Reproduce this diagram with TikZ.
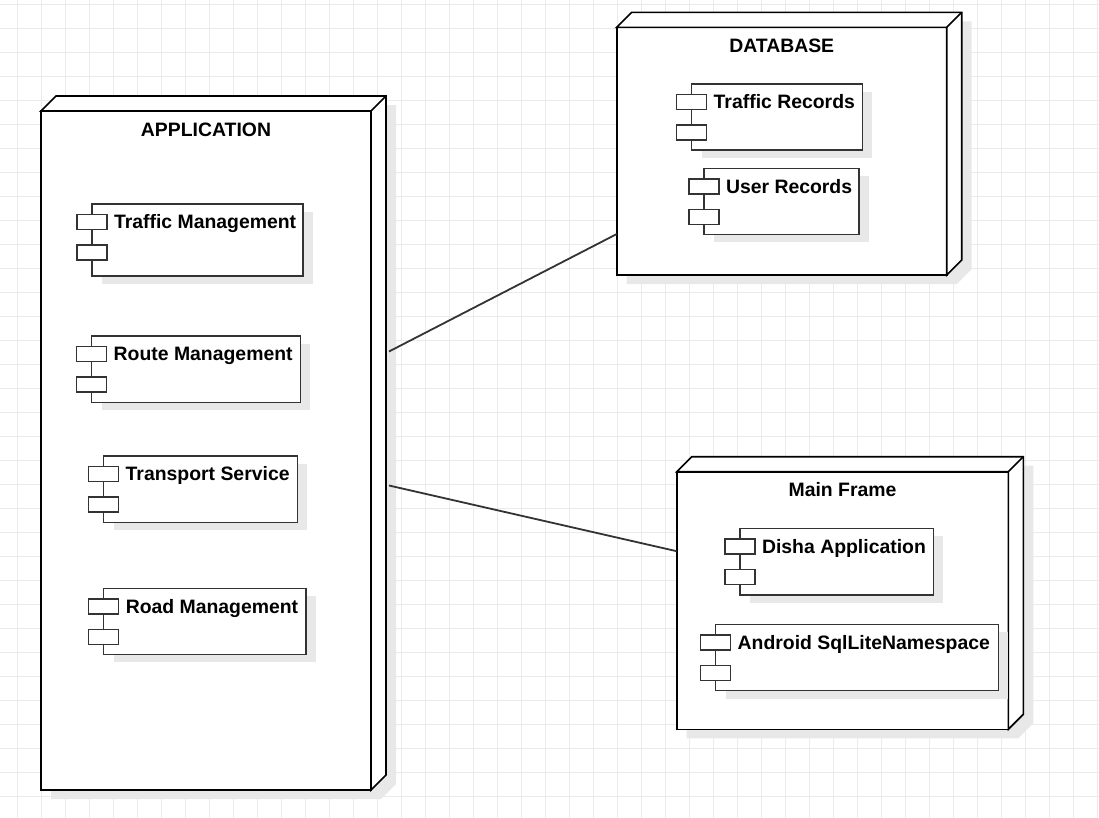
\documentclass[tikz,border=0pt]{standalone}
\usepackage{fontspec}
\setmainfont{Liberation Sans}
\usetikzlibrary{positioning,shadows,backgrounds}

\begin{document}
\begin{tikzpicture}[x=1pt, y=-1pt, every node/.style={inner sep=0pt, outer sep=0pt},
    cube/.style={draw=black, line width=1.6pt, fill=white},
    comp/.style={draw=black!80, line width=1.4pt, fill=white, drop shadow={shadow xshift=10pt, shadow yshift=-8pt, fill=shd, opacity=1}},
    port/.style={draw=black!80, line width=1.4pt, fill=white, minimum width=30pt, minimum height=15pt},
    lbl/.style={font=\fontsize{19.4}{23}\selectfont\bfseries, anchor=base west},
    head/.style={font=\fontsize{19.4}{23}\selectfont\bfseries, anchor=base},
    link/.style={draw=black!80, line width=1.8pt}]
    \colorlet{shd}{black!9}
    \colorlet{gridc}{black!8}
    \useasboundingbox (0,0) rectangle (1099,817);
    % Application node
    \node[cube, minimum width=330pt, minimum height=679pt] (app) at (206,450.5) {};
    \draw[cube] (app.north west) -- ([shift={(15pt,15pt)}]app.north west) -- ([shift={(15pt,15pt)}]app.north east) -- ([shift={(15pt,15pt)}]app.south east) -- (app.south east) -- (app.north east) -- cycle;
    \draw[cube] (app.north east) -- ([shift={(15pt,15pt)}]app.north east);
    \node[head] (appt) at ([yshift=-25.5pt]app.north) {APPLICATION};
    % traffic management
    \node[comp, minimum width=211pt, minimum height=72pt] (tm) at (197.5,240) {};
    \node[port, below=10.5pt of tm.north west] (tm1) {};
    \node[port, below=15.5pt of tm1] (tm2) {};
    \node[lbl] (tmt) at ([shift={(7pt,-6.8pt)}]tm1.east) {Traffic Management};
    % route management
    \node[comp, minimum width=208.6pt, minimum height=66.3pt] (rm) at (196,369.2) {};
    \node[port, below=10.5pt of rm.north west] (rm1) {};
    \node[port, below=15.5pt of rm1] (rm2) {};
    \node[lbl] (rmt) at ([shift={(7pt,-6.8pt)}]rm1.east) {Route Management};
    % transport service
    \node[comp, minimum width=193.6pt, minimum height=66.3pt] (ts) at (200.5,489.2) {};
    \node[port, below=10.5pt of ts.north west] (ts1) {};
    \node[port, below=15.5pt of ts1] (ts2) {};
    \node[lbl] (tst) at ([shift={(7pt,-6.8pt)}]ts1.east) {Transport Service};
    % road management
    \node[comp, minimum width=202.3pt, minimum height=66pt] (rd) at (204.9,621.3) {};
    \node[port, below=10.5pt of rd.north west] (rd1) {};
    \node[port, below=15.5pt of rd1] (rd2) {};
    \node[lbl] (rdt) at ([shift={(7pt,-6.8pt)}]rd1.east) {Road Management};
    % Database node
    \node[cube, minimum width=330pt, minimum height=247.7pt] (db) at (781.7,151.2) {};
    \draw[cube] (db.north west) -- ([shift={(15pt,15pt)}]db.north west) -- ([shift={(15pt,15pt)}]db.north east) -- ([shift={(15pt,15pt)}]db.south east) -- (db.south east) -- (db.north east) -- cycle;
    \draw[cube] (db.north east) -- ([shift={(15pt,15pt)}]db.north east);
    \node[head] (dbt) at ([yshift=-25pt]db.north) {DATABASE};
    % traffic records
    \node[comp, minimum width=170.6pt, minimum height=66pt] (tr) at (777,117) {};
    \node[port, below=10.5pt of tr.north west] (tr1) {};
    \node[port, below=15.5pt of tr1] (tr2) {};
    \node[lbl] (trt) at ([shift={(7pt,-6.8pt)}]tr1.east) {Traffic Records};
    % user records
    \node[comp, minimum width=155pt, minimum height=66pt] (ur) at (781.5,201.3) {};
    \node[port, below=10.5pt of ur.north west] (ur1) {};
    \node[port, below=15.5pt of ur1] (ur2) {};
    \node[lbl] (urt) at ([shift={(7pt,-6.8pt)}]ur1.east) {User Records};
    % Main Frame node
    \node[cube, minimum width=331.6pt, minimum height=257.6pt] (mf) at (842.5,600.5) {};
    \draw[cube] (mf.north west) -- ([shift={(15pt,15pt)}]mf.north west) -- ([shift={(15pt,15pt)}]mf.north east) -- ([shift={(15pt,15pt)}]mf.south east) -- (mf.south east) -- (mf.north east) -- cycle;
    \draw[cube] (mf.north east) -- ([shift={(15pt,15pt)}]mf.north east);
    \node[head] (mft) at ([yshift=-25pt]mf.north) {Main Frame};
    % disha application
    \node[comp, minimum width=193.3pt, minimum height=66.7pt] (da) at (836.7,561.7) {};
    \node[port, below=10.5pt of da.north west] (da1) {};
    \node[port, below=15.5pt of da1] (da2) {};
    \node[lbl] (dat) at ([shift={(7pt,-6.8pt)}]da1.east) {Disha Application};
    % android sqlite
    \node[comp, minimum width=282.6pt, minimum height=66.4pt] (as) at (857,657.5) {};
    \node[port, below=10.5pt of as.north west] (as1) {};
    \node[port, below=15.5pt of as1] (as2) {};
    \node[lbl] (ast) at ([shift={(7pt,-6.8pt)}]as1.east) {Android SqlLiteNamespace};
    % Links
    \draw[link] ([shift={(18pt,-240.5pt)}]app.north east) -- ([yshift=41pt]db.south west);
    \draw[link] ([shift={(18pt,-374.5pt)}]app.north east) -- ([yshift=-79.5pt]mf.north west);
    % Grid and shadows
    \begin{scope}[on background layer]
        \clip (0,0) rectangle (1099,817);
        \draw[gridc, line width=1pt, step=24pt, xshift=17.3pt, yshift=-4.3pt] (-30,-30) grid (1100,830);
        \fill[shd] ([shift={(10pt,-9pt)}]app.south west) -- ([shift={(10pt,-9pt)}]app.north west) -- ([shift={(25pt,6pt)}]app.north west) -- ([shift={(25pt,6pt)}]app.north east) -- ([shift={(25pt,6pt)}]app.south east) -- ([shift={(10pt,-9pt)}]app.south east) -- cycle;
        \fill[shd] ([shift={(10pt,-9pt)}]db.south west) -- ([shift={(10pt,-9pt)}]db.north west) -- ([shift={(25pt,6pt)}]db.north west) -- ([shift={(25pt,6pt)}]db.north east) -- ([shift={(25pt,6pt)}]db.south east) -- ([shift={(10pt,-9pt)}]db.south east) -- cycle;
        \fill[shd] ([shift={(10pt,-9pt)}]mf.south west) -- ([shift={(10pt,-9pt)}]mf.north west) -- ([shift={(25pt,6pt)}]mf.north west) -- ([shift={(25pt,6pt)}]mf.north east) -- ([shift={(25pt,6pt)}]mf.south east) -- ([shift={(10pt,-9pt)}]mf.south east) -- cycle;
    \end{scope}
\end{tikzpicture}
\end{document}
